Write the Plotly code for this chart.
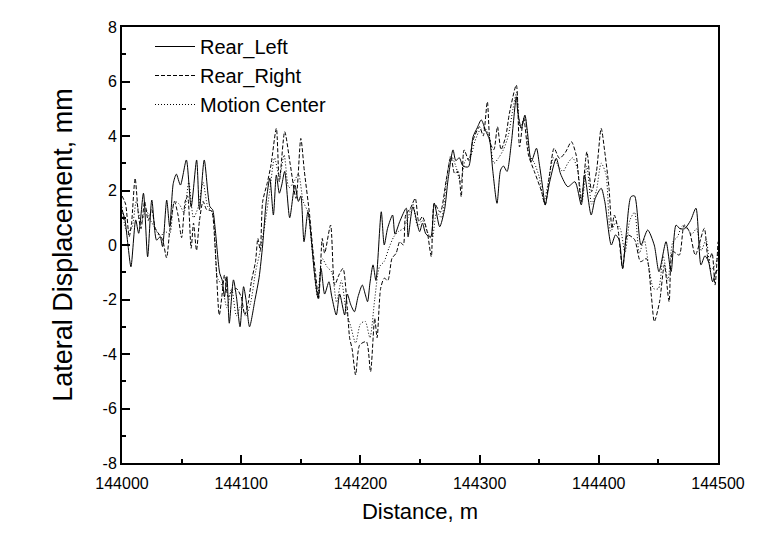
import plotly.graph_objects as go

# Rear_Left (solid)
x_left = [144000, 144002.5, 144005, 144007.5, 144011.5, 144014, 144018, 144021.5, 144025, 144029, 144032, 144034,
          144037.5, 144040, 144043, 144045.6, 144049, 144054, 144058, 144062.6, 144065, 144069, 144073.8, 144076,
          144078, 144082, 144084, 144086, 144088, 144090, 144093.5, 144096, 144099, 144102, 144104, 144107,
          144111.6, 144115, 144118, 144121, 144124, 144127, 144129.5, 144132, 144134, 144136.5, 144140.7, 144145,
          144148, 144150, 144152.7, 144156, 144161.6, 144164.5, 144167, 144170, 144173.6, 144176, 144179.8,
          144182.6, 144186.8, 144189, 144192, 144195, 144198, 144201.6, 144204, 144206, 144208, 144210.6, 144213,
          144217.5, 144220, 144222.8, 144227, 144229, 144233, 144238.5, 144240, 144244, 144249.7, 144252, 144255,
          144259, 144262, 144266.5, 144270.6, 144273.5, 144277.7, 144280, 144283, 144286, 144290.6, 144294.5,
          144298, 144301.4, 144305, 144308.4, 144311, 144314.6, 144317.6, 144320, 144323, 144326.6, 144330.8,
          144332, 144335, 144338, 144340, 144343.4, 144347.7, 144350, 144353, 144355, 144358.8, 144364.3, 144368,
          144374, 144380, 144385.3, 144388, 144393.6, 144397, 144402, 144405, 144410.5, 144414, 144417, 144420,
          144423, 144427, 144430, 144435.4, 144441, 144446.5, 144450.5, 144456.4, 144460.6, 144464.8, 144468,
          144472, 144477, 144481.5, 144485.7, 144489, 144492, 144495.5, 144498, 144500]
y_left = [1.3, 0.92, 0.0, -0.8, 0.92, 0.43, 1.9, -0.43, 1.65, 0.18, 0.3, -0.06,
          1.65, 0.67, 2.26, 2.6, 2.2, 3.12, 1.4, 3.12, 1.3, 3.12, 1.4, 1.3,
          0.67, -1.04, -1.28, -1.9, -1.16, -2.87, -1.28, -1.9, -3.0, -1.53, -2.0, -3.0,
          -2.0, -1.2, 0.0, 1.6, 2.45, 1.1, 2.57, 1.9, 2.2, 2.7, 1.0, 2.2,
          1.6, 1.8, 0.12, 1.22, -1.1, -1.96, -0.86, -1.8, -1.35, -1.9, -2.57,
          -1.8, -2.57, -1.8, -2.2, -2.45, -1.9, -1.47, -1.8, -2.08, -1.4, -0.73, -1.3,
          1.22, 0.0, 0.61, 1.1, 0.4, 0.86, 1.35, 0.3, 1.4, 0.49, 0.8, 0.4,
          0.3, 1.53, 0.67, 1.3, 2.39, 3.49, 3.1, 3.2, 2.9, 2.87, 3.97,
          4.3, 4.59, 4.2, 3.85, 2.75, 1.53, 2.75, 2.9, 2.7, 3.73, 5.44,
          4.89, 4.28, 4.77, 4.2, 3.06, 3.55, 3.0, 2.08, 1.47, 2.32, 3.18, 2.6,
          2.14, 2.32, 1.47, 2.57, 1.1, 1.71, 2.08, 1.6, 0.0, 0.37, 0.2, -0.86,
          0.4, 1.77, 1.8, 0.0, 0.55, 0.0, -0.98, 0.12, -0.98, 0.73, 0.6,
          0.6, 0.9, 1.35, -0.73, -0.4, -0.6, -1.35, -1.0, -0.9]

# Rear_Right (dashed)
x_right = [144000, 144003, 144006, 144008, 144011, 144014, 144016, 144019, 144022, 144025, 144028, 144031, 144034,
           144037.4, 144040, 144044, 144047, 144050, 144053, 144055, 144058, 144060, 144062.5, 144065, 144068,
           144071, 144075, 144078, 144081.6, 144084, 144086, 144089, 144092, 144096, 144100, 144103, 144106,
           144108.5, 144112, 144114, 144116, 144118, 144122, 144125, 144129.5, 144132, 144136.5, 144141, 144146,
           144150, 144153, 144157.4, 144160, 144162, 144165, 144168, 144170, 144175, 144178.4, 144182, 144185.4,
           144189, 144191, 144193, 144196, 144199.4, 144205, 144208.5, 144212, 144214, 144217, 144220, 144223,
           144226.5, 144230, 144233, 144236, 144238, 144242, 144246, 144249, 144252, 144256, 144259.5, 144262,
           144267, 144272, 144276, 144279, 144282, 144284.6, 144287, 144291, 144294.5, 144300, 144303, 144306.5,
           144309, 144312, 144315, 144318, 144322, 144325, 144330.8, 144333.5, 144337, 144341, 144346, 144352,
           144355, 144359, 144362.5, 144367, 144372, 144377, 144381, 144385.3, 144390, 144394, 144398, 144402,
           144405, 144408.6, 144411, 144413, 144416, 144420, 144424, 144430, 144435, 144440, 144444, 144446.6,
           144451, 144455, 144459, 144462, 144467.5, 144471.6, 144476, 144481, 144488.5, 144492, 144495,
           144497.5, 144500]
y_right = [1.8, 1.5, 0.3, 0.8, 2.45, 1.0, 0.6, 1.6, 0.9, 1.3, 0.6, 0.4, 0.2,
           -0.47, 0.5, 1.6, 1.1, 0.27, 1.6, 1.8, -0.12, 0.8, -0.2, 0.9, 1.6,
           1.3, 1.25, 0.0, -2.57, -1.8, -1.1, -1.9, -1.7, -1.6, -1.9, -2.57, -2.1,
           -1.35, -0.61, 0.24, -0.2, 1.59, 2.3, 2.94, 4.28, 2.32, 4.16, 3.0, 1.71,
           3.91, 2.7, 1.1, -0.12, -0.9, -1.96, 0.24, -0.3, 0.73, -1.47, -1.1, -0.86,
           -2.32, -3.42, -3.8, -4.77, -3.67, -3.55, -4.65, -2.69, -3.4, -1.59, -1.22, -1.3,
           -0.49, -0.3, 0.12, 0.0, 1.1, 1.35, 1.71, 0.86, 1.04, 0.5, -0.43, 1.53,
           1.2, 2.39, 3.24, 2.63, 2.7, 1.77, 3.49, 3.1, 3.85, 4.34, 4.0, 5.26,
           3.73, 3.5, 4.34, 3.5, 4.0, 4.83, 5.87, 3.6, 4.65, 3.3, 2.69, 1.96,
           1.47, 2.69, 3.55, 3.18, 3.4, 3.79, 3.3, 1.59, 3.42, 1.96, 2.69, 4.28,
           3.42, 2.08, 0.61, 1.1, 0.61, -0.86, 0.37, 0.2, -0.61, -0.5, -1.83, -2.81,
           -2.08, -0.73, -2.08, -0.24, -0.37, 0.73, 0.5, -0.37, 0.61, -0.61, -0.3,
           -1.47, 0.12]

# Motion Center (dotted)
x_center = [144000, 144004, 144008, 144012, 144016, 144020, 144024, 144028, 144032, 144036, 144040, 144044, 144048,
            144052, 144056, 144060, 144064, 144068, 144072, 144076, 144080, 144084, 144088, 144092, 144096, 144100,
            144104, 144108, 144112, 144116, 144120, 144124, 144128, 144132, 144136, 144140, 144144, 144148, 144152,
            144156, 144160, 144164, 144168, 144172, 144176, 144180, 144184, 144188, 144192, 144196, 144200, 144204,
            144208, 144212, 144216, 144220, 144224, 144228, 144232, 144236, 144240, 144244, 144248, 144252, 144256,
            144260, 144264, 144268, 144272, 144276, 144280, 144284, 144288, 144292, 144296, 144300, 144304, 144308,
            144312, 144316, 144320, 144324, 144328, 144331, 144334, 144338, 144342, 144346, 144350, 144354, 144358,
            144362, 144366, 144370, 144374, 144378, 144382, 144386, 144390, 144394, 144398, 144402, 144406, 144410,
            144414, 144418, 144422, 144426, 144430, 144434, 144438, 144442, 144446, 144450, 144454, 144458, 144462,
            144466, 144470, 144474, 144478, 144482, 144486, 144490, 144494, 144498, 144500]
y_center = [1.4, 0.5, 0.6, 1.6, 0.8, 1.3, 0.9, 0.6, 0.3, 0.5, 0.4, 1.6, 1.5,
            1.2, 2.3, 1.0, 1.4, 2.3, 1.4, 1.2, -1.2, -1.5, -2.3, -1.6, -2.6, -2.2,
            -2.6, -2.1, -1.0, -0.2, 0.8, 2.0, 3.2, 2.5, 3.3, 2.1, 2.3, 2.6, 1.6,
            1.2, -0.4, -1.9, -0.5, -0.8, -1.0, -2.1, -1.3, -2.4, -3.0, -3.6, -2.9, -2.8,
            -3.4, -2.0, -0.8, -0.6, -0.1, 0.3, 0.5, 0.6, 1.0, 1.5, 0.7, 0.9, 0.5,
            0.2, 1.2, 1.0, 2.3, 3.3, 2.9, 2.3, 3.1, 3.2, 3.8, 4.2, 4.3, 4.0,
            3.0, 3.2, 3.5, 4.0, 5.0, 5.6, 4.3, 4.7, 3.3, 3.0, 2.5, 1.6, 2.4,
            3.2, 2.9, 2.7, 3.0, 3.2, 2.8, 1.6, 2.9, 1.5, 2.0, 3.0, 2.6, 0.5,
            0.8, 0.6, -0.3, 0.9, 1.2, -0.3, 0.2, -0.8, -1.6, -1.6, -0.4, -1.3, 0.1,
            0.3, 0.7, 0.6, 0.4, 0.6, -0.2, 0.2, -0.9, -0.7, -0.3]

x_ticks = [144000, 144100, 144200, 144300, 144400, 144500]
y_ticks = [-8, -6, -4, -2, 0, 2, 4, 6, 8]

FONT = "Liberation Sans, Arial, sans-serif"

fig = go.Figure()
fig.add_trace(go.Scatter(x=x_left, y=y_left, mode="lines", name="Rear_Left",
                         line=dict(color="black", width=1, shape="spline", smoothing=0.7)))
fig.add_trace(go.Scatter(x=x_right, y=y_right, mode="lines", name="Rear_Right",
                         line=dict(color="black", width=1, dash="4px,2px", shape="spline", smoothing=0.7)))
fig.add_trace(go.Scatter(x=x_center, y=y_center, mode="lines", name="Motion Center",
                         line=dict(color="black", width=1, dash="1px,2px", shape="spline", smoothing=0.7)))

axis_common = dict(showgrid=False, zeroline=False, showline=True, linecolor="black", linewidth=2,
                   mirror=True, ticks="inside", ticklen=8, tickwidth=2, tickcolor="black",
                   tickfont=dict(family=FONT, size=16, color="black"))

fig.update_xaxes(range=[144000, 144500], tickvals=x_ticks, ticktext=[str(v) for v in x_ticks],
                 ticklabelstandoff=5,
                 title=dict(text="Distance, m", font=dict(family=FONT, size=22, color="black"), standoff=12),
                 minor=dict(ticks="inside", ticklen=4, tickwidth=2, tickcolor="black", dtick=50, showgrid=False),
                 **axis_common)
fig.update_yaxes(range=[-8, 8], tickvals=y_ticks, ticktext=[str(v) for v in y_ticks],
                 title=dict(text="Lateral Displacement, mm", font=dict(family=FONT, size=27, color="black"), standoff=22),
                 minor=dict(ticks="inside", ticklen=4, tickwidth=2, tickcolor="black", dtick=1, showgrid=False),
                 **axis_common)

fig.update_layout(
    width=759, height=553,
    margin=dict(l=122, r=41, t=27, b=90),
    paper_bgcolor="white", plot_bgcolor="white",
    showlegend=True,
    legend=dict(x=0.047, y=1.0, xanchor="left", yanchor="top", bgcolor="rgba(0,0,0,0)",
                font=dict(family=FONT, size=20, color="black"), tracegroupgap=0, itemwidth=40),
)

fig.write_html("out.html")
